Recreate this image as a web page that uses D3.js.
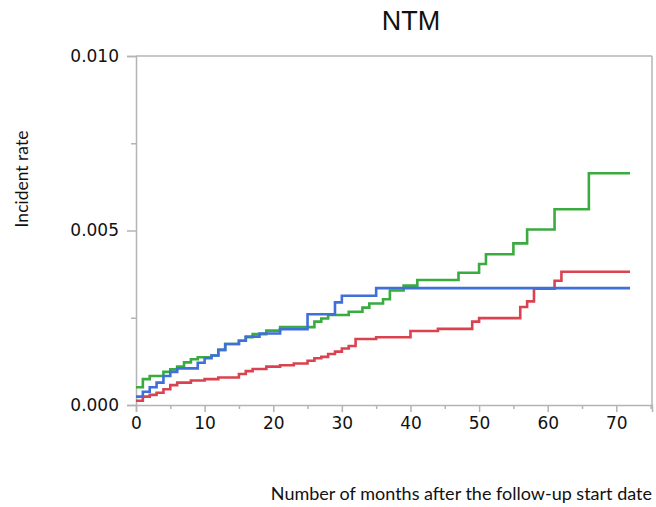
<!DOCTYPE html>
<html>
<head>
<meta charset="utf-8">
<script src="https://cdn.jsdelivr.net/npm/d3@7"></script>
<style>
  html, body { margin: 0; padding: 0; background: #fff; }
  svg { display: block; }
</style>
</head>
<body>
<svg id="chart" width="656" height="507"></svg>
<script>
// Cumulative incidence step curves: month at which each step starts, and the rate from that month on.
const greenMonths = [0, 1, 2, 4, 5, 6, 7, 8, 9, 11, 12, 13, 15, 16, 17, 19, 21, 26, 27, 28, 31, 33, 34, 36, 37, 39, 41, 47, 50, 51, 55, 57, 61, 66];
const greenRates  = [0.00051, 0.00074, 0.00083, 0.00095, 0.00102, 0.00110, 0.00122, 0.00131, 0.00137, 0.00142, 0.00158, 0.00175, 0.00184, 0.00194, 0.00203, 0.00213, 0.00223, 0.00239, 0.00248, 0.00258, 0.00267, 0.00279, 0.00291, 0.00303, 0.00328, 0.00342, 0.00358, 0.00379, 0.00404, 0.00432, 0.00463, 0.00503, 0.00561, 0.00664];

const blueMonths = [0, 1, 2, 3, 4, 5, 6, 9, 10, 11, 12, 13, 15, 16, 18, 21, 25, 29, 30, 35];
const blueRates  = [0.00024, 0.00038, 0.00051, 0.00064, 0.00083, 0.00095, 0.00105, 0.00121, 0.00134, 0.00142, 0.00158, 0.00175, 0.00184, 0.00196, 0.00205, 0.00217, 0.00260, 0.00294, 0.00313, 0.00335];

const redMonths = [0, 1, 2, 3, 4, 5, 6, 8, 10, 12, 15, 16, 17, 19, 21, 23, 25, 26, 27, 28, 29, 30, 31, 32, 35, 40, 44, 49, 50, 56, 57, 58, 61, 62];
const redRates  = [0.00012, 0.00024, 0.00029, 0.00035, 0.00045, 0.00057, 0.00064, 0.00070, 0.00074, 0.00079, 0.00089, 0.00097, 0.00103, 0.00110, 0.00114, 0.00119, 0.00127, 0.00134, 0.00138, 0.00146, 0.00153, 0.00162, 0.00169, 0.00189, 0.00194, 0.00212, 0.00218, 0.00239, 0.00249, 0.00281, 0.00297, 0.00333, 0.00356, 0.00382];

const followUpEnd = 72;

const xTicks = [0, 10, 20, 30, 40, 50, 60, 70];
const xMinorTicks = [5, 15, 25, 35, 45, 55, 65, 75];
const yTicks = [0, 0.005, 0.010];
const yMinorTicks = [0.0025, 0.0075];

const series = [
  { months: greenMonths, rates: greenRates, color: "#3aab3f" },
  { months: redMonths,   rates: redRates,   color: "#d9434f" },
  { months: blueMonths,  rates: blueRates,  color: "#3f6fd8" }
];

const svg = d3.select("#chart");
const plotLeft = 136, plotRight = 652, plotTop = 56, plotBottom = 405;

const x = d3.scaleLinear().domain([0, 75.2]).range([plotLeft, plotRight]);
const y = d3.scaleLinear().domain([0, 0.010]).range([plotBottom, plotTop]);

const axisColor = "#b4b4b4";

// Frame: top and right borders
svg.append("line").attr("x1", plotLeft).attr("x2", plotRight).attr("y1", plotTop).attr("y2", plotTop)
  .attr("stroke", axisColor).attr("stroke-width", 1.5);
svg.append("line").attr("x1", plotRight).attr("x2", plotRight).attr("y1", plotTop).attr("y2", plotBottom)
  .attr("stroke", axisColor).attr("stroke-width", 1.5);

// X axis
svg.append("g").attr("transform", `translate(0,${plotBottom})`)
  .call(d3.axisBottom(x).tickValues(xTicks).tickFormat(d3.format("d")).tickSize(7).tickPadding(5));
svg.append("g").attr("transform", `translate(0,${plotBottom})`)
  .call(d3.axisBottom(x).tickValues(xMinorTicks).tickFormat("").tickSize(4))
  .call(g => g.select(".domain").remove());

// Y axis
svg.append("g").attr("transform", `translate(${plotLeft},0)`)
  .call(d3.axisLeft(y).tickValues(yTicks).tickFormat(d3.format(".3f")).tickSize(9).tickPadding(8));
svg.append("g").attr("transform", `translate(${plotLeft},0)`)
  .call(d3.axisLeft(y).tickValues(yMinorTicks).tickFormat("").tickSize(5))
  .call(g => g.select(".domain").remove());

svg.selectAll(".domain").attr("stroke", axisColor).attr("stroke-width", 1.5);
svg.selectAll(".tick line").attr("stroke", axisColor).attr("stroke-width", 1.5);
svg.selectAll(".tick text")
  .attr("fill", "#111")
  .style("font-family", "'DejaVu Sans', Verdana, sans-serif")
  .style("font-size", "17px");

// Step curves
const line = d3.line()
  .x(d => x(d[0]))
  .y(d => y(d[1]))
  .curve(d3.curveStepAfter);

series.forEach(s => {
  const pts = s.months.map((m, i) => [m, s.rates[i]]);
  pts.push([followUpEnd, s.rates[s.rates.length - 1]]);
  svg.append("path")
    .datum(pts)
    .attr("d", line)
    .attr("fill", "none")
    .attr("stroke", s.color)
    .attr("stroke-width", 2.6);
});

// Title
svg.append("text")
  .attr("x", 411).attr("y", 30)
  .attr("text-anchor", "middle")
  .style("font-family", "'Liberation Sans', Arial, sans-serif")
  .style("font-size", "27px")
  .attr("fill", "#111")
  .text("NTM");

// Axis titles
svg.append("text")
  .attr("transform", "translate(28,179) rotate(-90)")
  .attr("text-anchor", "middle")
  .style("font-family", "Lato, 'Open Sans', sans-serif")
  .style("font-size", "17.5px")
  .attr("fill", "#111")
  .text("Incident rate");

svg.append("text")
  .attr("x", 652).attr("y", 500)
  .attr("text-anchor", "end")
  .style("font-family", "Lato, 'Open Sans', sans-serif")
  .style("font-size", "18px")
  .attr("fill", "#111")
  .text("Number of months after the follow-up start date");
</script>
</body>
</html>
